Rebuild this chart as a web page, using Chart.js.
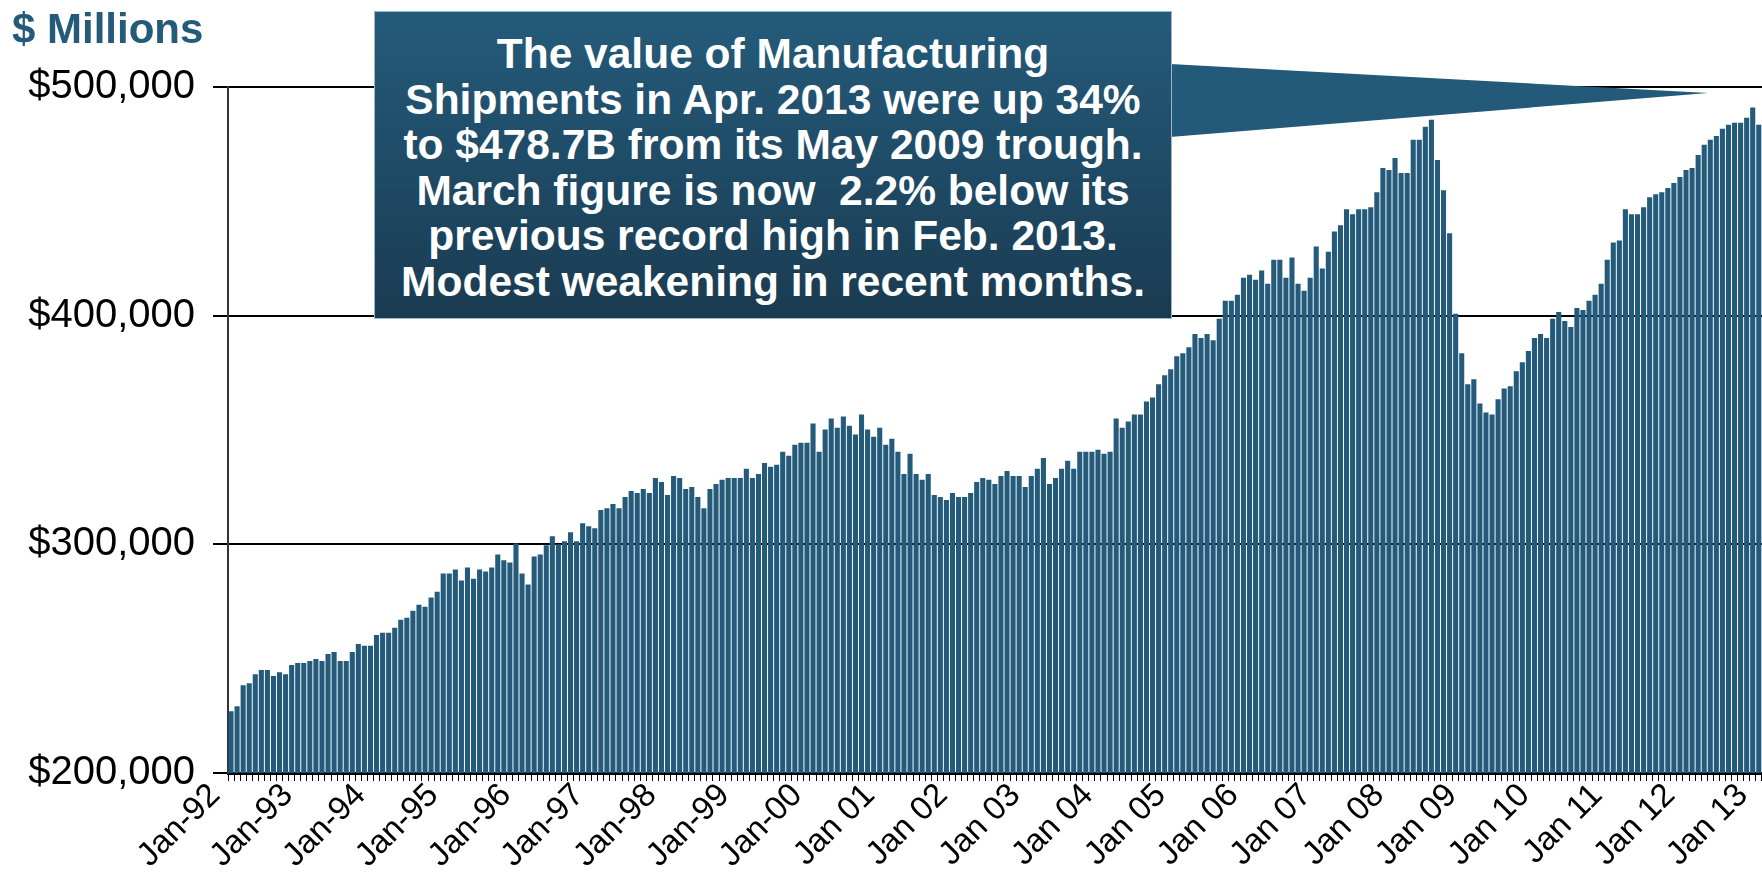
<!DOCTYPE html>
<html>
<head>
<meta charset="utf-8">
<script src="https://cdn.jsdelivr.net/npm/chart.js@4.4.1/dist/chart.umd.min.js"></script>
<style>
  html, body { margin: 0; padding: 0; width: 1762px; height: 877px; overflow: hidden; background: #fff; font-family: 'Liberation Sans', Arial, sans-serif; }
  #wrap { position: absolute; left: 0; top: 0; width: 1800px; height: 877px; }
  #title { position: absolute; left: 12px; top: 8px; font-size: 42px; line-height: 42px; font-weight: bold; color: #245a7a; }
  #pointer { position: absolute; left: 0; top: 0; }
  #callout { position: absolute; left: 374px; top: 11px; width: 798px; height: 308px; box-sizing: border-box; padding-top: 19px;
    background: linear-gradient(#245b7b, #1a3b51); color: #fff; font-weight: bold; font-size: 42.5px; line-height: 45.5px;
    text-align: center; border: 1px solid #9fb6c6; white-space: pre; }
</style>
</head>
<body>
<div id="wrap"><canvas id="shipments"></canvas></div>
<div id="title">$ Millions</div>
<svg id="pointer" width="1762" height="877"><polygon points="1170,64 1708,93 1170,137" fill="#235979"/></svg>
<div id="callout">The value of Manufacturing
Shipments in Apr. 2013 were up 34%
to $478.7B from its May 2009 trough.
March figure is now  2.2% below its
previous record high in Feb. 2013.
Modest weakening in recent months.</div>
<script>
// monthly value of manufacturing shipments, $ millions
var ship1992 = [227000, 229200, 238400, 239300, 243200, 245000, 245000, 242400, 244100, 243200, 247200, 248100];
var ship1993 = [248100, 249000, 249800, 249000, 252000, 252900, 249000, 249000, 252900, 256400, 255600, 255600];
var ship1994 = [260400, 261300, 261300, 263500, 267000, 267900, 271000, 273600, 272700, 276700, 279300, 287200];
var ship1995 = [287200, 289000, 284200, 289900, 285000, 289000, 288100, 289900, 295600, 293000, 292100, 300400];
var ship1996 = [287200, 282400, 294700, 295600, 299600, 303500, 300000, 301300, 305300, 301300, 309200, 307900];
var ship1997 = [307000, 315000, 315800, 317600, 315800, 320700, 323300, 322400, 324200, 322400, 329000, 327300];
var ship1998 = [321600, 329900, 329000, 324200, 325100, 320700, 315800, 324200, 326400, 328200, 329000, 329000];
var ship1999 = [329000, 333000, 329000, 330800, 335600, 333900, 334800, 340500, 338700, 343600, 344400, 344400];
var ship2000 = [352800, 340500, 350200, 355000, 351000, 355900, 351900, 348000, 356800, 350200, 347100, 351000];
var ship2001 = [343600, 346200, 340500, 330800, 339600, 330800, 328200, 330800, 321600, 320700, 319400, 322400];
var ship2002 = [320700, 320700, 322400, 327300, 329000, 328200, 326400, 329900, 332100, 329900, 329900, 325100];
var ship2003 = [329900, 333000, 337800, 326400, 329000, 333000, 336500, 333000, 340500, 340500, 340500, 341400];
var ship2004 = [339600, 340500, 355000, 351000, 353700, 356800, 356800, 362500, 364200, 370000, 373900, 376600];
var ship2005 = [382300, 383600, 386200, 392000, 390200, 392000, 389300, 398600, 406500, 406500, 409100, 416600];
var ship2006 = [417900, 415700, 419700, 414000, 424500, 424500, 416600, 425400, 414000, 410900, 416600, 430200];
var ship2007 = [420600, 428000, 436800, 439500, 446500, 444300, 446500, 446500, 447400, 454000, 464600, 463700];
var ship2008 = [469000, 462400, 462400, 476900, 476900, 482600, 485700, 468100, 454900, 436000, 400800, 383600];
var ship2009 = [370000, 372200, 361600, 357600, 356800, 363400, 368200, 369100, 375700, 379600, 384500, 390200];
var ship2010 = [392000, 390200, 398600, 401600, 397700, 395000, 403400, 402500, 406500, 409100, 414000, 424500];
var ship2011 = [432000, 432900, 446500, 444300, 444300, 447400, 451800, 453100, 454000, 455800, 458000, 460600];
var ship2012 = [463700, 464600, 470300, 474700, 476900, 478600, 481700, 483500, 484400, 484400, 486600, 491000];
var ship2013 = [483500, 485000, 481000, 478700];

var yearCodes = ['92', '93', '94', '95', '96', '97', '98', '99', '00', '01', '02', '03', '04', '05', '06', '07', '08', '09', '10', '11', '12', '13'];
var monthNames = ['Jan', 'Feb', 'Mar', 'Apr', 'May', 'Jun', 'Jul', 'Aug', 'Sep', 'Oct', 'Nov', 'Dec'];
var janTicks = ['Jan-92', 'Jan-93', 'Jan-94', 'Jan-95', 'Jan-96', 'Jan-97', 'Jan-98', 'Jan-99', 'Jan-00',
  'Jan 01', 'Jan 02', 'Jan 03', 'Jan 04', 'Jan 05', 'Jan 06', 'Jan 07', 'Jan 08', 'Jan 09', 'Jan 10', 'Jan 11', 'Jan 12', 'Jan 13'];

document.addEventListener("DOMContentLoaded", function() {
    var byYear = [ship1992, ship1993, ship1994, ship1995, ship1996, ship1997, ship1998, ship1999, ship2000, ship2001, ship2002,
        ship2003, ship2004, ship2005, ship2006, ship2007, ship2008, ship2009, ship2010, ship2011, ship2012, ship2013];
    var labels = [];
    var values = [];
    byYear.forEach(function(arr, k) {
        arr.forEach(function(v, m) {
            labels.push(monthNames[m] + '-' + yearCodes[k]);
            values.push(v);
        });
    });

    Chart.defaults.font.family = "'Liberation Sans', Arial, sans-serif";
    var ctx = document.getElementById('shipments').getContext('2d');
    var shipChart = new Chart(ctx, {
        type: 'bar',
        data: {
            labels: labels,
            datasets: [{
                label: 'Manufacturing Shipments',
                data: values,
                backgroundColor: '#245a7a',
                barPercentage: 0.84,
                categoryPercentage: 1.0
            }]
        },
        options: {
            responsive: true,
            maintainAspectRatio: false,
            animation: false,
            layout: { padding: { left: 0, top: 87, right: 16, bottom: 0 } },
            plugins: { legend: { display: false }, tooltip: { enabled: false } },
            scales: {
                x: {
                    afterFit: function(s) { s.height = 104; },
                    ticks: {
                        autoSkip: false,
                        minRotation: 45,
                        maxRotation: 45,
                        padding: -5,
                        labelOffset: -16,
                        color: '#000',
                        font: { size: 33 },
                        callback: function(v, i) { return i % 12 === 0 ? janTicks[i / 12] : ''; }
                    },
                    grid: { drawOnChartArea: false, color: '#000', tickLength: 8, lineWidth: 1 },
                    border: { color: '#000', width: 3 }
                },
                y: {
                    min: 200000,
                    max: 500000,
                    afterFit: function(s) { s.width = 228; },
                    ticks: {
                        stepSize: 100000,
                        padding: 18,
                        color: '#000',
                        font: { size: 40 },
                        callback: function(v) { return '$' + v.toLocaleString('en-US'); }
                    },
                    grid: { color: '#000', lineWidth: 2, tickLength: 15 },
                    border: { color: '#333', width: 2 }
                }
            }
        }
    });
});
</script>
</body>
</html>
